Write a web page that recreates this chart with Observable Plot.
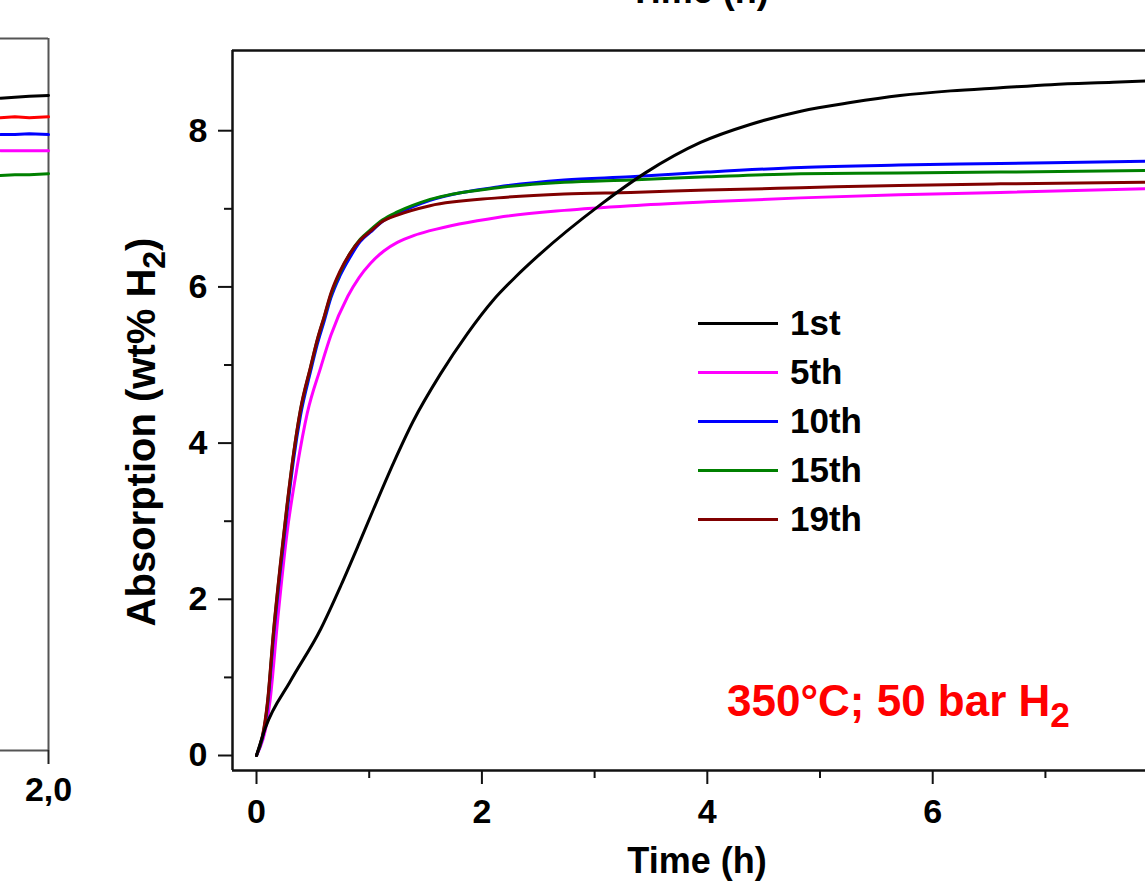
<!DOCTYPE html>
<html><head><meta charset="utf-8">
<script src="https://cdn.jsdelivr.net/npm/d3@7"></script>
<script src="https://cdn.jsdelivr.net/npm/@observablehq/plot@0.6"></script>
<style>
html,body{margin:0;padding:0;background:#fff;overflow:hidden;width:1145px;height:882px;}
#wrap{position:relative;width:1145px;height:882px;overflow:hidden;font-family:"Liberation Sans",Arial,sans-serif;font-weight:bold;color:#000;}
#wrap svg{position:absolute;left:0;top:0;}
.ov{position:absolute;white-space:nowrap;}
.ov sub{font-size:0.8em;vertical-align:-0.32em;line-height:0;}
</style></head><body><div id="wrap"></div>
<script>
// ---- main panel data (Time in h, absorption in wt% H2) ----
const seriesNames = ["1st", "5th", "10th", "15th", "19th"];
const seriesColors = ["#000000", "#ff00ff", "#0000ff", "#008000", "#800000"];
const drawOrder = ["5th", "10th", "15th", "19th", "1st"];

const time1st = [0, 0.08, 0.30, 0.57, 0.75, 0.90, 1.04, 1.22, 1.39, 1.63, 1.87, 2.10, 2.30, 2.50, 3.05, 3.45, 3.94, 4.38, 4.83, 5.27, 5.71, 6.16, 6.60, 7.05, 7.60, 7.95];
const abs1st  = [0, 0.36, 0.95, 1.62, 2.18, 2.68, 3.16, 3.76, 4.28, 4.88, 5.40, 5.83, 6.13, 6.40, 7.05, 7.46, 7.85, 8.08, 8.25, 8.36, 8.45, 8.51, 8.55, 8.59, 8.62, 8.64];

const time5th = [0, 0.12, 0.19, 0.27, 0.36, 0.45, 0.57, 0.66, 0.81, 0.91, 1.01, 1.13, 1.25, 1.40, 1.54, 2.14, 2.73, 3.32, 4.00, 4.83, 5.70, 6.60, 7.95];
const abs5th  = [0, 0.70, 1.77, 2.84, 3.69, 4.38, 4.97, 5.38, 5.88, 6.12, 6.30, 6.46, 6.57, 6.66, 6.72, 6.89, 6.98, 7.04, 7.09, 7.14, 7.18, 7.21, 7.26];

const timeFast = [0, 0.10, 0.15, 0.21, 0.27, 0.33, 0.39, 0.48, 0.54, 0.60, 0.66, 0.74, 0.83, 0.92, 1.01, 1.12, 1.25, 1.54, 2.14, 2.73, 3.32, 4.00, 4.83, 5.70, 6.60, 7.95];
const abs10th  = [0, 0.66, 1.50, 2.35, 3.10, 3.80, 4.35, 4.92, 5.27, 5.56, 5.86, 6.14, 6.38, 6.58, 6.70, 6.84, 6.94, 7.11, 7.28, 7.37, 7.41, 7.47, 7.53, 7.56, 7.58, 7.61];
const abs15th  = [0, 0.70, 1.56, 2.41, 3.18, 3.87, 4.42, 4.97, 5.32, 5.61, 5.90, 6.18, 6.43, 6.61, 6.73, 6.86, 6.96, 7.12, 7.27, 7.34, 7.37, 7.41, 7.45, 7.46, 7.47, 7.49];
const abs19th  = [0, 0.72, 1.58, 2.43, 3.20, 3.88, 4.43, 4.98, 5.33, 5.62, 5.92, 6.20, 6.43, 6.60, 6.71, 6.84, 6.92, 7.04, 7.14, 7.19, 7.21, 7.24, 7.27, 7.30, 7.32, 7.34];

const xTicks = [0, 2, 4, 6];
const xMinorTicks = [1, 3, 5, 7];
const yTicks = [0, 2, 4, 6, 8];
const yMinorTicks = [1, 3, 5, 7];
const xDomain = [-0.213, 7.888];
const yDomain = [-0.192, 9.027];

// ---- left (cropped) panel data ----
const leftNames = ["black", "red", "blue", "magenta", "green"];
const leftColors = ["#000000", "#ff0000", "#0000ff", "#ff00ff", "#008000"];
const leftTime = [1.90, 1.93, 1.96, 2.00];
const leftBlack = [7.33, 7.34, 7.35, 7.36];
const leftRed = [7.11, 7.12, 7.11, 7.12];
const leftBlue = [6.92, 6.92, 6.93, 6.92];
const leftMagenta = [6.74, 6.74, 6.74, 6.74];
const leftGreen = [6.46, 6.47, 6.47, 6.48];
const leftTicks = [2.0];
const leftXDomain = [1.90, 2.00];
const leftYDomain = [0, 8];

// ---- build tables ----
const mainSeries = {
  "1st": [time1st, abs1st],
  "5th": [time5th, abs5th],
  "10th": [timeFast, abs10th],
  "15th": [timeFast, abs15th],
  "19th": [timeFast, abs19th]
};
const rows = drawOrder.flatMap(s => mainSeries[s][0].map((t, i) => ({series: s, t, v: mainSeries[s][1][i]})));

const leftSeries = {black: leftBlack, red: leftRed, blue: leftBlue, magenta: leftMagenta, green: leftGreen};
const leftRows = leftNames.flatMap(s => leftTime.map((t, i) => ({series: s, t, v: leftSeries[s][i]})));

const font = "'Liberation Sans', Arial, sans-serif";
const frameColor = "#111";

const main = Plot.plot({
  width: 1145, height: 882,
  marginLeft: 232, marginRight: 0, marginTop: 50, marginBottom: 112,
  x: {domain: xDomain, label: null},
  y: {domain: yDomain, label: null},
  color: {domain: seriesNames, range: seriesColors},
  style: {fontFamily: font, fontWeight: "bold", fontSize: "34px", color: "#000", background: "transparent", overflow: "hidden"},
  marks: [
    Plot.ruleX([xDomain[0]], {stroke: frameColor, strokeWidth: 2.5}),
    Plot.ruleY(yDomain, {stroke: frameColor, strokeWidth: 2.5}),
    Plot.axisX(xTicks, {tickSize: 14, tickPadding: 14, strokeWidth: 2, label: null, stroke: frameColor, tickFormat: d => String(d)}),
    Plot.axisX(xMinorTicks, {tickSize: 8, tickFormat: () => "", strokeWidth: 2, label: null, stroke: frameColor}),
    Plot.axisY(yTicks, {tickSize: 14, tickPadding: 11, strokeWidth: 2, label: null, stroke: frameColor, tickFormat: d => String(d)}),
    Plot.axisY(yMinorTicks, {tickSize: 8, tickFormat: () => "", strokeWidth: 2, label: null, stroke: frameColor}),
    ...drawOrder.map(s => Plot.line(rows.filter(d => d.series === s), {x: "t", y: "v", stroke: "series", strokeWidth: 3, curve: "monotone-x"}))
  ]
});

const left = Plot.plot({
  width: 100, height: 882,
  marginLeft: 0, marginRight: 52, marginTop: 38, marginBottom: 132,
  x: {domain: leftXDomain, label: null},
  y: {domain: leftYDomain, axis: null},
  color: {domain: leftNames, range: leftColors},
  style: {fontFamily: font, fontWeight: "bold", fontSize: "34px", color: "#000", background: "transparent", overflow: "visible"},
  marks: [
    Plot.ruleX([leftXDomain[1]], {stroke: "#555", strokeWidth: 2}),
    Plot.ruleY(leftYDomain, {stroke: "#555", strokeWidth: 2}),
    Plot.axisX(leftTicks, {tickSize: 14, tickPadding: 12, strokeWidth: 2, label: null, stroke: "#222", tickFormat: d => d.toFixed(1).replace(".", ",")}),
    Plot.line(leftRows, {x: "t", y: "v", z: "series", stroke: "series", strokeWidth: 3})
  ]
});

const wrap = document.getElementById("wrap");
wrap.appendChild(left);
wrap.appendChild(main);

function addText(html, css) {
  const d = document.createElement("div");
  d.className = "ov";
  d.innerHTML = html;
  Object.assign(d.style, css);
  wrap.appendChild(d);
  return d;
}

// cropped x-axis title of the panel above (cut by the top edge, as in the source figure)
addText("Time (h)", {left: "699px", top: "-27px", fontSize: "36px", lineHeight: "36px", transform: "translateX(-50%)"});
// x-axis title
addText("Time (h)", {left: "697px", top: "843px", fontSize: "36px", lineHeight: "36px", transform: "translateX(-50%)"});
// y-axis title
addText("Absorption (wt% H<sub>2</sub>)", {left: "141px", top: "432px", fontSize: "40px", lineHeight: "40px", transform: "translate(-50%,-50%) rotate(-90deg)"});
// condition annotation
addText("350°C; 50 bar H<sub>2</sub>", {left: "727px", top: "679px", fontSize: "44px", lineHeight: "44px", color: "#ff0000"});

// legend
const legendY = [323, 372, 421, 470, 519];
seriesNames.forEach((name, i) => {
  const row = document.createElement("div");
  row.className = "ov";
  Object.assign(row.style, {left: "698px", top: (legendY[i] - 18) + "px", height: "36px", fontSize: "35px", lineHeight: "36px"});
  const ln = document.createElement("span");
  Object.assign(ln.style, {position: "absolute", left: "0px", top: "16.5px", width: "80px", height: "3px", background: seriesColors[i]});
  const tx = document.createElement("span");
  Object.assign(tx.style, {position: "absolute", left: "92px", top: "0px"});
  tx.textContent = name;
  row.appendChild(ln); row.appendChild(tx);
  wrap.appendChild(row);
});
</script></body></html>
